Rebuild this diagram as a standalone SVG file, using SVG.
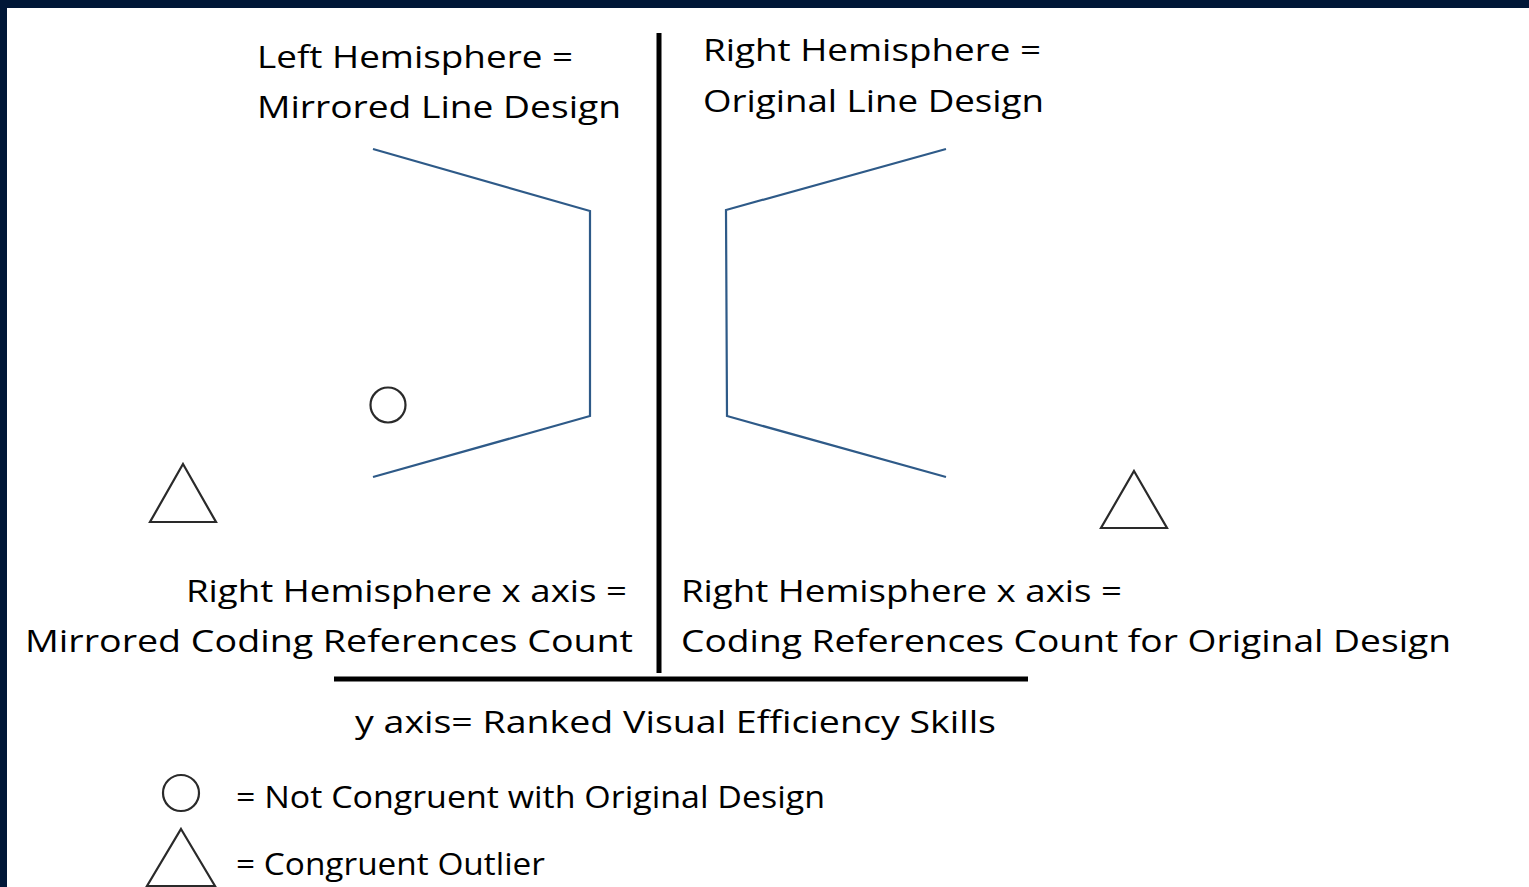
<svg xmlns="http://www.w3.org/2000/svg" width="1529" height="887" viewBox="0 0 1529 887">
  <style>
    .lbl { font-family: "Open Sans", "Noto Sans", "Liberation Sans", sans-serif; font-size: 31px; fill: #000; }
    .axis { stroke: #000; stroke-width: 5; fill: none; }
    .design { stroke: #2E5A88; stroke-width: 2.2; fill: none; stroke-linejoin: miter; }
    .mark { stroke: #2a2a2a; stroke-width: 2.2; fill: #fff; }
  </style>

  <!-- page and frame -->
  <rect x="0" y="0" width="1529" height="887" fill="#fff"/>
  <rect x="0" y="0" width="1529" height="8" fill="#001737"/>
  <rect x="0" y="0" width="7" height="887" fill="#001737"/>

  <!-- axes -->
  <g id="connectors">
    <line class="axis" x1="659" y1="33" x2="659" y2="673"/>
    <line class="axis" x1="334" y1="679" x2="1028" y2="679"/>
  </g>

  <!-- quadrant headings -->
  <g id="left-heading">
    <text class="lbl" x="257" y="68" textLength="316" lengthAdjust="spacingAndGlyphs">Left Hemisphere =</text>
    <text class="lbl" x="257" y="118" textLength="364" lengthAdjust="spacingAndGlyphs">Mirrored Line Design</text>
  </g>
  <g id="right-heading">
    <text class="lbl" x="703" y="61" textLength="338" lengthAdjust="spacingAndGlyphs">Right Hemisphere =</text>
    <text class="lbl" x="703" y="112" textLength="341" lengthAdjust="spacingAndGlyphs">Original Line Design</text>
  </g>

  <!-- line designs -->
  <g id="mirrored-design">
    <polyline class="design" points="373,149 590,211 590,416 373,477"/>
  </g>
  <g id="original-design">
    <polyline class="design" points="946,149 726,210 727,416 946,477"/>
  </g>

  <!-- data markers -->
  <g id="left-circle">
    <circle class="mark" cx="388" cy="405" r="17.5"/>
  </g>
  <g id="left-triangle">
    <polygon class="mark" points="183,464 216,522 150,522"/>
  </g>
  <g id="right-triangle">
    <polygon class="mark" points="1134,471 1167,528 1101,528"/>
  </g>

  <!-- x-axis labels -->
  <g id="left-x-label">
    <text class="lbl" x="186" y="602" textLength="441" lengthAdjust="spacingAndGlyphs">Right Hemisphere x axis =</text>
    <text class="lbl" x="25" y="652" textLength="608" lengthAdjust="spacingAndGlyphs">Mirrored Coding References Count</text>
  </g>
  <g id="right-x-label">
    <text class="lbl" x="681" y="602" textLength="441" lengthAdjust="spacingAndGlyphs">Right Hemisphere x axis =</text>
    <text class="lbl" x="681" y="652" textLength="770" lengthAdjust="spacingAndGlyphs">Coding References Count for Original Design</text>
  </g>

  <!-- y-axis label -->
  <g id="y-label">
    <text class="lbl" x="355" y="733" textLength="641" lengthAdjust="spacingAndGlyphs">y axis= Ranked Visual Efficiency Skills</text>
  </g>

  <!-- legend -->
  <g id="legend-circle">
    <circle class="mark" cx="181" cy="793" r="18"/>
    <text class="lbl" x="236" y="808" textLength="589" lengthAdjust="spacingAndGlyphs">= Not Congruent with Original Design</text>
  </g>
  <g id="legend-triangle">
    <polygon class="mark" points="181,829 215,886 147,886"/>
    <text class="lbl" x="236" y="875" textLength="309" lengthAdjust="spacingAndGlyphs">= Congruent Outlier</text>
  </g>
</svg>
